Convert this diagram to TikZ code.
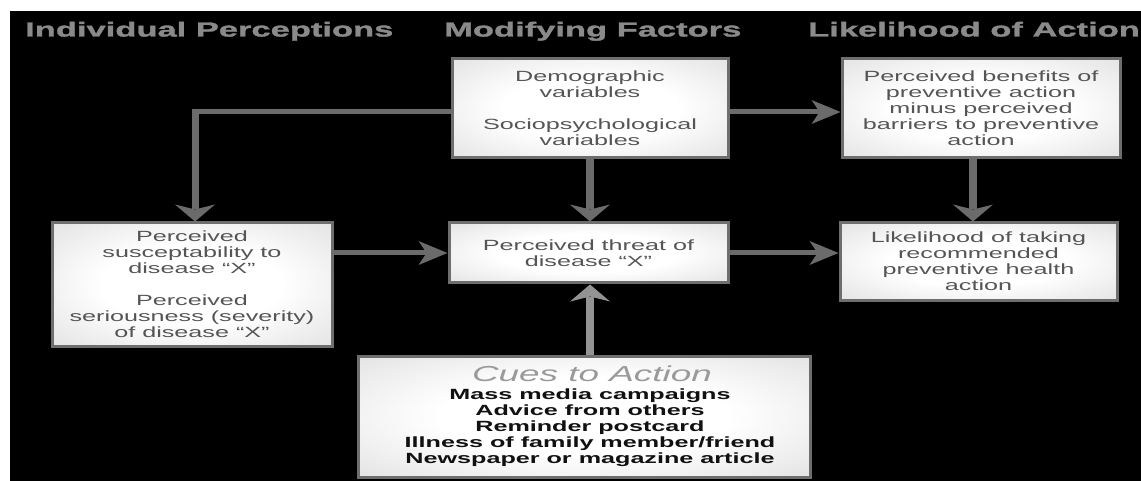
\documentclass[tikz,border=0pt]{standalone}
\usepackage{fontspec}
\setmainfont{Liberation Sans}[FakeStretch=1.7]
\newfontfamily\headfont{Liberation Sans Bold}[FakeStretch=1.7, FakeBold=1.6]
\usetikzlibrary{arrows.meta}
\definecolor{conn}{HTML}{6B6B6B}
\definecolor{cuearr}{HTML}{939393}
\definecolor{boxline}{HTML}{6E6E6E}
\definecolor{boxedge}{HTML}{CFCFCF}
\definecolor{boxtext}{HTML}{555555}
\definecolor{headc}{HTML}{8A8A8A}
\definecolor{cuetitle}{HTML}{9A9A9A}
\definecolor{cueitem}{HTML}{111111}
\pgfdeclareradialshading{boxshade}{\pgfpoint{0bp}{0bp}}{color(0bp)=(white); color(16bp)=(white); color(50bp)=(boxedge); color(75bp)=(boxedge)}
\tikzset{
  box/.style={draw=boxline, line width=3pt, inner sep=0pt, align=center, shading=boxshade,
    font=\fontsize{14.8}{16}\selectfont, text=boxtext},
  head/.style={inner sep=0pt, anchor=base west, text=headc, font=\headfont\fontsize{20.3}{24}\selectfont},
  varr/.style={color=conn, line width=8pt, -{Stealth[width=40pt,length=17pt,inset=5pt,line width=0pt]}},
  harr/.style={color=conn, line width=5pt, -{Stealth[width=24pt,length=29pt,inset=8pt,line width=0pt]}},
  hline/.style={color=conn, line width=5pt},
  varrthin/.style={color=conn, line width=7pt, -{Stealth[width=40pt,length=17pt,inset=5pt,line width=0pt]}},
}
\begin{document}
\begin{tikzpicture}[x=1pt,y=-1pt]
\useasboundingbox (0,0) rectangle (1141,481);
\fill[white] (0,0) rectangle (1141,481);
\fill[black] (10,11) rectangle (1141,481);
% headers
\node[head] (h1) at (25,36.5) {Individual Perceptions};
\node[head] (h2) at (444,36.5) {Modifying Factors};
\node[head] (h3) at (808,36.5) {Likelihood of Action};
% boxes
\node[box, minimum width=276pt, minimum height=99pt] (demo) at (590,108.5)
  {Demographic\\variables\\[16pt]Sociopsychological\\variables};
\node[box, minimum width=278pt, minimum height=99pt] (ben) at (981,108.5)
  {Perceived benefits of\\preventive action\\minus perceived\\barriers to preventive\\action};
\node[box, minimum width=280pt, minimum height=123pt] (left) at (192,284.5)
  {Perceived\\susceptability to\\disease “X”\\[16pt]Perceived\\seriousness (severity)\\of disease “X”};
\node[box, minimum width=279pt, minimum height=60pt] (threat) at (588.5,253)
  {Perceived threat of\\disease “X”};
\node[box, minimum width=277pt, minimum height=77pt] (lik) at (978.5,261.5)
  {Likelihood of taking\\recommended\\preventive health\\action};
\node[box, minimum width=452pt, minimum height=121pt] (cues) at (584,416.5) {};
\node[inner sep=0pt, anchor=base, text=cuetitle, font=\itshape\fontsize{21.7}{24}\selectfont] (cuet) at (592,381) {Cues to Action};
\node[inner sep=0pt, align=center, text=cueitem, font=\bfseries\fontsize{14.8}{16}\selectfont] (cuei) at (590,428)
  {Mass media campaigns\\Advice from others\\Reminder postcard\\Illness of family member/friend\\Newspaper or magazine article};
% connectors
\coordinate (dw) at ([yshift=-3.5pt]demo.west);
\coordinate (de) at ([yshift=-3.5pt]demo.east);
\coordinate (bend) at ([xshift=3pt]left.north |- dw);
\draw[hline] (dw) -- ([xshift=-3.5pt]bend);
\draw[varrthin] ([yshift=2.5pt]bend) -- (bend |- left.north);
\draw[harr] (de) -- (ben.west |- de);
\draw[varr] (demo.south) -- (demo.south |- threat.north);
\draw[varr] ([xshift=-8pt]ben.south) -- ([xshift=-8pt]ben.south |- lik.north);
\draw[harr] (left.east |- threat.west) -- (threat.west);
\draw[harr] (threat.east) -- (lik.west |- threat.east);
\draw[varr, color=cuearr] (cues.north -| demo.south) -- (threat.south -| demo.south);
\end{tikzpicture}
\end{document}
